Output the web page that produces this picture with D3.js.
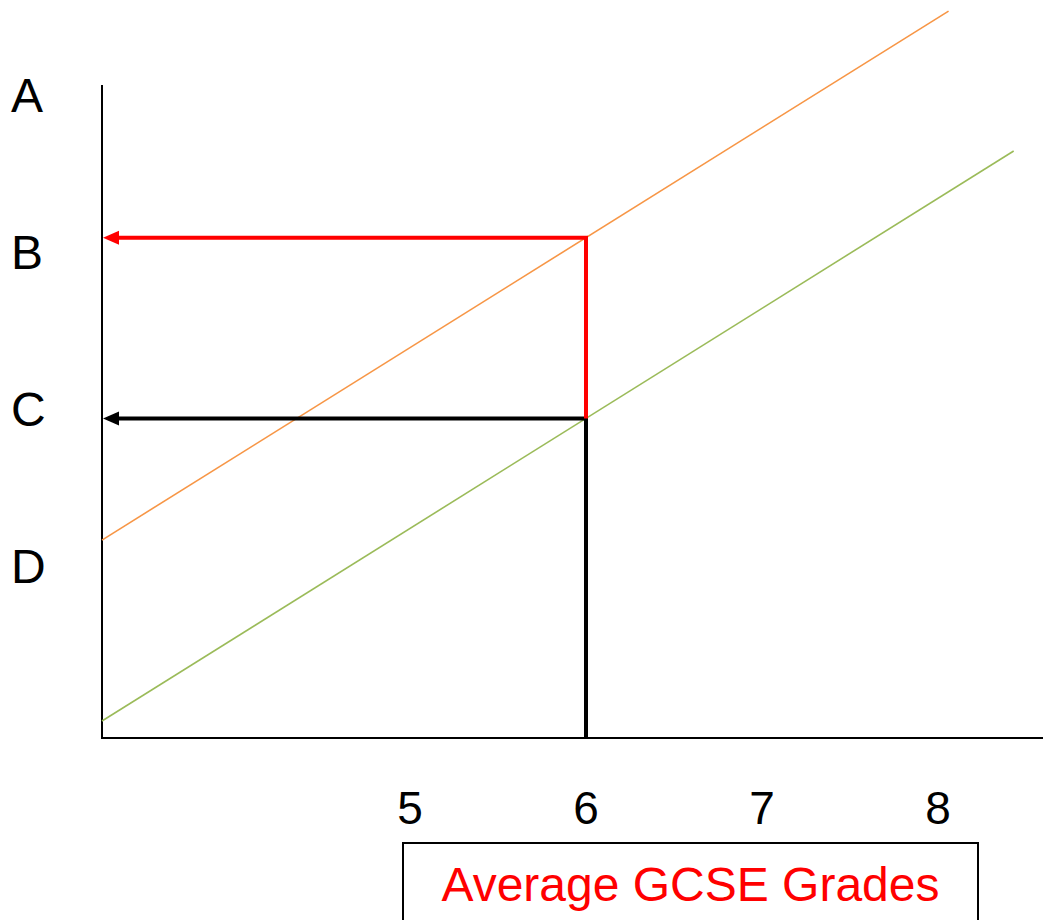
<!DOCTYPE html>
<html>
<head>
<meta charset="utf-8">
<script src="https://cdn.jsdelivr.net/npm/d3@7"></script>
<style>
  html, body { margin: 0; padding: 0; background: #fff; }
  svg { display: block; font-family: Arial, "Liberation Sans", sans-serif; }
</style>
</head>
<body>
<div id="chart"></div>
<script>
// Data
const gcseTicks = [5, 6, 7, 8];
const outcomeLabels = ["A", "B", "C", "D"];
const outcomeValues = [4, 3, 2, 1];

// two lines: [gcse grade, outcome value]
const upperLine = [[3.25, 1.165], [8.06, 4.53]];
const lowerLine = [[3.25, 0.014], [8.43, 3.64]];
const chosenGrade = 6;

const width = 1043;
const height = 920;
const axisLeft = 102;
const axisBottom = 738;
const axisTop = 85;
const textColor = "#000";

const svg = d3.select("#chart")
  .append("svg")
    .attr("width", width)
    .attr("height", height);

const xScale = d3.scaleLinear()
  .domain([5, 8])
  .range([410, 938]);

const yScale = d3.scaleLinear()
  .domain([1, 4])
  .range([566, 94.4]);

// value of a line at a given grade
const valueAt = (line, g) => {
  const [p0, p1] = line;
  return p0[1] + (g - p0[0]) * (p1[1] - p0[1]) / (p1[0] - p0[0]);
};

// axes
svg.append("line")
    .attr("x1", axisLeft)
    .attr("x2", axisLeft)
    .attr("y1", axisTop)
    .attr("y2", axisBottom + 1)
    .attr("stroke", textColor)
    .attr("stroke-width", 2);
svg.append("line")
    .attr("x1", axisLeft - 1)
    .attr("x2", width)
    .attr("y1", axisBottom)
    .attr("y2", axisBottom)
    .attr("stroke", textColor)
    .attr("stroke-width", 2);

// the two lines
const lineGen = d3.line()
  .x(d => xScale(d[0]))
  .y(d => yScale(d[1]));

svg.append("path")
    .datum(upperLine)
    .attr("d", lineGen)
    .attr("fill", "none")
    .attr("stroke", "#F79646")
    .attr("stroke-width", 1.6);
svg.append("path")
    .datum(lowerLine)
    .attr("d", lineGen)
    .attr("fill", "none")
    .attr("stroke", "#9BBB59")
    .attr("stroke-width", 1.6);

// arrows at the chosen grade
const gx = xScale(chosenGrade);
const upperY = yScale(valueAt(upperLine, chosenGrade));
const lowerY = yScale(valueAt(lowerLine, chosenGrade));
const headLen = 16;
const headHalf = 7;

const drawArrow = (fromY, toY, color) => {
  const g = svg.append("g");
  g.append("path")
      .attr("d", `M${gx},${fromY} L${gx},${toY} L${axisLeft + 1 + headLen},${toY}`)
      .attr("fill", "none")
      .attr("stroke", color)
      .attr("stroke-width", 4);
  g.append("path")
      .attr("d", `M${axisLeft + 1},${toY} L${axisLeft + 1 + headLen},${toY - headHalf} L${axisLeft + 1 + headLen},${toY + headHalf} Z`)
      .attr("fill", color);
};

drawArrow(axisBottom, lowerY, "#000");
drawArrow(lowerY, upperY, "#FF0000");

// y labels (letter grades)
svg.selectAll(".y-label")
  .data(outcomeLabels)
  .join("text")
    .attr("class", "y-label")
    .attr("x", 11)
    .attr("y", (d, i) => yScale(outcomeValues[i]))
    .attr("dy", "0.36em")
    .style("font-size", "48px")
    .style("fill", textColor)
    .text(d => d);

// x tick labels
svg.selectAll(".x-label")
  .data(gcseTicks)
  .join("text")
    .attr("class", "x-label")
    .attr("x", d => xScale(d))
    .attr("y", 824)
    .attr("text-anchor", "middle")
    .style("font-size", "46px")
    .style("fill", textColor)
    .text(d => d);

// title box
svg.append("rect")
    .attr("x", 403)
    .attr("y", 843)
    .attr("width", 575)
    .attr("height", 100)
    .attr("fill", "none")
    .attr("stroke", textColor)
    .attr("stroke-width", 2);
svg.append("text")
    .attr("x", 690.5)
    .attr("y", 901)
    .attr("text-anchor", "middle")
    .style("font-size", "48px")
    .style("fill", "#FF0000")
    .text("Average GCSE Grades");
</script>
</body>
</html>
